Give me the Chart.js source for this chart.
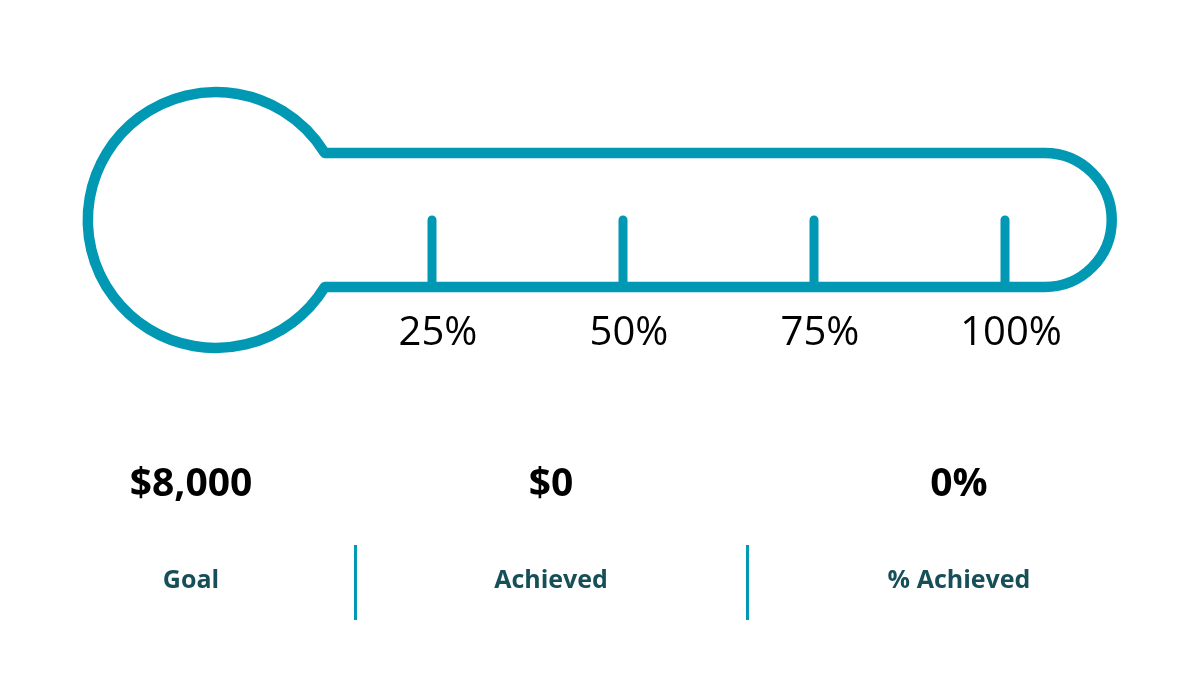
<!DOCTYPE html>
<html>
<head>
<meta charset="utf-8">
<title>Fundraising thermometer</title>
<script src="https://cdn.jsdelivr.net/npm/chart.js@4.4.1/dist/chart.umd.min.js"></script>
<style>
  html, body { margin: 0; padding: 0; background: #ffffff; }
  #wrap { width: 1200px; height: 675px; }
</style>
</head>
<body>
<div id="wrap"><canvas id="thermo" width="1200" height="675"></canvas></div>
<script>
// data
const tickValues = [25, 50, 75, 100];
const tickLabels = ['25%', '50%', '75%', '100%'];
const statLabels = ['Goal', 'Achieved', '% Achieved'];
const goalAmount = 8000;
const achievedAmount = 0;

const teal = '#0098b3';
const darkTeal = '#174f59';
const achievedPct = goalAmount > 0 ? Math.round(achievedAmount / goalAmount * 100) : 0;
const statValues = [
  '$' + goalAmount.toLocaleString('en-US'),
  '$' + achievedAmount.toLocaleString('en-US'),
  achievedPct + '%'
];

// one short vertical line per tick, from the tube floor up to the middle
const tickSets = tickValues.map(v => ({
  data: [{ x: v, y: 0 }, { x: v, y: 0.5 }],
  showLine: true,
  borderColor: teal,
  borderWidth: 9,
  borderCapStyle: 'round',
  pointRadius: 0,
  clip: false
}));

// outline of the thermometer + mercury + stats row
const thermoPlugin = {
  id: 'thermo',
  afterDatasetsDraw(chart) {
    const { ctx, scales: { x, y } } = chart;
    const top = y.getPixelForValue(1);
    const bottom = y.getPixelForValue(0);
    const mid = (top + bottom) / 2;
    const h = (bottom - top) / 2;
    const bulbR = h * 1.91;
    const bulbX = x.getPixelForValue(-3.3);
    const capX = x.getPixelForValue(105.2);
    const dx = Math.sqrt(bulbR * bulbR - h * h);
    const a = Math.atan2(h, dx);

    ctx.save();
    // mercury (only when something has been raised)
    if (achievedPct > 0) {
      const lvl = x.getPixelForValue(Math.min(achievedPct, 100));
      ctx.fillStyle = teal;
      ctx.beginPath();
      ctx.arc(bulbX, mid, bulbR, a, 2 * Math.PI - a);
      ctx.lineTo(lvl, top);
      ctx.lineTo(lvl, bottom);
      ctx.closePath();
      ctx.fill();
    }

    ctx.strokeStyle = teal;
    ctx.lineWidth = 10.5;
    ctx.lineJoin = 'round';
    ctx.beginPath();
    ctx.moveTo(bulbX + dx, top);
    ctx.lineTo(capX, top);
    ctx.arc(capX, mid, h, -Math.PI / 2, Math.PI / 2);
    ctx.lineTo(bulbX + dx, bottom);
    ctx.arc(bulbX, mid, bulbR, a, 2 * Math.PI - a);
    ctx.closePath();
    ctx.stroke();

    // stats row
    const cols = [191, 551, 959];
    ctx.textAlign = 'center';
    ctx.textBaseline = 'alphabetic';
    statValues.forEach((v, i) => {
      ctx.fillStyle = '#000000';
      ctx.font = 'bold 39px "Open Sans"';
      ctx.fillText(v, cols[i], 496);
      ctx.fillStyle = darkTeal;
      ctx.font = 'bold 25px "Open Sans"';
      ctx.fillText(statLabels[i], cols[i], 588);
    });

    // separators
    ctx.strokeStyle = teal;
    ctx.lineWidth = 3;
    [355.5, 747.5].forEach(sx => {
      ctx.beginPath();
      ctx.moveTo(sx, 545);
      ctx.lineTo(sx, 620);
      ctx.stroke();
    });
    ctx.restore();
  }
};

new Chart(document.getElementById('thermo'), {
  type: 'scatter',
  data: { datasets: tickSets },
  options: {
    responsive: false,
    animation: false,
    events: [],
    layout: { padding: { left: 241, right: 195, top: 153, bottom: 0 } },
    plugins: {
      legend: { display: false },
      tooltip: { enabled: false }
    },
    scales: {
      x: {
        type: 'linear',
        min: 0,
        max: 100,
        border: { display: false },
        grid: { display: false, drawTicks: false },
        afterBuildTicks: s => { s.ticks = tickValues.map(v => ({ value: v })); },
        afterFit: s => { s.height = 388; },
        ticks: {
          color: '#000000',
          font: { family: '"Open Sans"', size: 40 },
          padding: 23,
          labelOffset: 6,
          maxRotation: 0,
          callback: (v) => tickLabels[tickValues.indexOf(v)]
        }
      },
      y: {
        type: 'linear',
        min: 0,
        max: 1,
        display: false
      }
    }
  },
  plugins: [thermoPlugin]
});
</script>
</body>
</html>
